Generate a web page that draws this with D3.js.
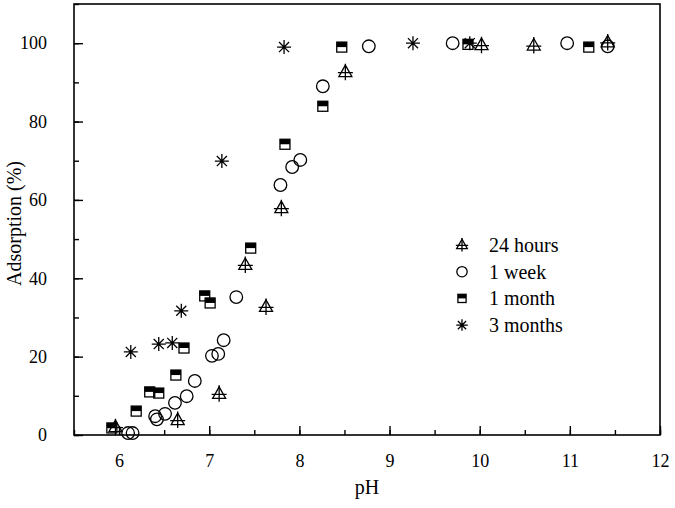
<!DOCTYPE html>
<html><head><meta charset="utf-8">
<script src="https://cdn.jsdelivr.net/npm/d3@7"></script>
<style>body{margin:0;background:#fff}svg{display:block}text{font-family:"Liberation Serif","Times New Roman",serif;fill:#000}</style>
</head><body><svg id="c" width="675" height="508"></svg>
<script>
const hoursPH = [5.96, 6.65, 7.11, 7.63, 7.40, 7.80, 8.51, 10.02, 10.60, 11.42];
const hoursVal = [2.0, 3.8, 10.5, 32.7, 43.4, 57.9, 92.6, 99.5, 99.4, 100.2];
const weekPH = [6.10, 6.15, 6.40, 6.42, 6.51, 6.62, 6.75, 6.84, 7.03, 7.10, 7.16, 7.30, 7.79, 7.92, 8.01, 8.26, 8.77, 9.70, 10.97, 11.42];
const weekVal = [0.5, 0.5, 4.8, 4.0, 5.4, 8.2, 9.9, 13.8, 20.2, 20.7, 24.2, 35.2, 63.8, 68.4, 70.2, 89.0, 99.2, 100, 100, 99.2];
const monthPH = [5.92, 6.19, 6.34, 6.44, 6.63, 6.72, 6.95, 7.01, 7.46, 7.84, 8.26, 8.47, 9.87, 11.21];
const monthVal = [1.8, 6.1, 11.0, 10.7, 15.3, 22.2, 35.5, 33.7, 47.7, 74.2, 83.9, 99.0, 99.7, 99.0];
const threePH = [6.13, 6.44, 6.59, 6.69, 7.14, 7.83, 9.26, 9.89];
const threeVal = [21.2, 23.2, 23.5, 31.7, 69.9, 99.0, 100, 100];
const legendLabels = ["24 hours", "1 week", "1 month", "3 months"];
const xTicks = [6, 7, 8, 9, 10, 11, 12];
const yTicks = [0, 20, 40, 60, 80, 100];

const svg = d3.select("#c");
const L = 74, R = 660, T = 4, B = 435;
const x = d3.scaleLinear().domain([5.5, 12]).range([L, R]);
const y = d3.scaleLinear().domain([0, 110]).range([B, T]);

// frame
svg.append("rect").attr("x", L).attr("y", T).attr("width", R - L).attr("height", B - T)
  .attr("fill", "none").attr("stroke", "#000").attr("stroke-width", 1.6);

// x axis ticks (inward)
const xMinor = d3.range(5.5, 12.01, 0.5);
svg.append("g").attr("transform", `translate(0,${B})`)
  .call(d3.axisBottom(x).tickValues(xMinor).tickSize(-5).tickFormat(""))
  .call(g => g.select(".domain").remove())
  .call(g => g.selectAll("line").attr("stroke-width", 1.4));
svg.append("g").attr("transform", `translate(0,${B})`)
  .call(d3.axisBottom(x).tickValues(xTicks).tickSize(-9).tickPadding(19).tickFormat(d3.format("d")))
  .call(g => g.select(".domain").remove())
  .call(g => g.selectAll("line").attr("stroke-width", 1.4))
  .call(g => g.selectAll("text").attr("font-size", 18).attr("font-family", "Liberation Serif"));

// y axis ticks (inward)
const yMinor = d3.range(0, 110.1, 10);
svg.append("g").attr("transform", `translate(${L},0)`)
  .call(d3.axisLeft(y).tickValues(yMinor).tickSize(-5).tickFormat(""))
  .call(g => g.select(".domain").remove())
  .call(g => g.selectAll("line").attr("stroke-width", 1.4));
svg.append("g").attr("transform", `translate(${L},0)`)
  .call(d3.axisLeft(y).tickValues(yTicks).tickSize(-9).tickPadding(27).tickFormat(d3.format("d")))
  .call(g => g.select(".domain").remove())
  .call(g => g.selectAll("line").attr("stroke-width", 1.4))
  .call(g => g.selectAll("text").attr("font-size", 18).attr("font-family", "Liberation Serif"));

svg.append("text").attr("x", (L + R) / 2).attr("y", 494).attr("text-anchor", "middle")
  .attr("font-size", 20).text("pH");
svg.append("text").attr("transform", `translate(21,${(T + B) / 2 + 4}) rotate(-90)`)
  .attr("text-anchor", "middle").attr("font-size", 20).text("Adsorption (%)");

// markers
function drawTri(g, s) {
  g.append("path").attr("d", `M0,${-7*s}L${-6.5*s},${4.5*s}L${6.5*s},${4.5*s}Z`)
    .attr("fill", "none").attr("stroke", "#000").attr("stroke-width", 1.3);
  g.append("path").attr("d", `M0,${-8.5*s}V${8*s}M${-7.5*s},${0.5*s}H${7.5*s}`)
    .attr("stroke", "#000").attr("stroke-width", 1.3);
}
function drawCirc(g, s) {
  g.append("circle").attr("r", 6.3 * s).attr("fill", "none").attr("stroke", "#000").attr("stroke-width", 1.3);
}
function drawSq(g, s) {
  const h = 5 * s;
  g.append("rect").attr("x", -h).attr("y", -h).attr("width", 2*h).attr("height", h).attr("fill", "#000");
  g.append("rect").attr("x", -h).attr("y", -h).attr("width", 2*h).attr("height", 2*h)
    .attr("fill", "none").attr("stroke", "#000").attr("stroke-width", 1.3);
}
function drawStar(g, s) {
  const r = 7 * s, d = r * 0.72;
  g.append("path").attr("d", `M0,${-r}V${r}M${-r},0H${r}M${-d},${-d}L${d},${d}M${-d},${d}L${d},${-d}`)
    .attr("stroke", "#000").attr("stroke-width", 1.3);
}

const series = [
  { px: hoursPH, v: hoursVal, draw: drawTri },
  { px: weekPH, v: weekVal, draw: drawCirc },
  { px: monthPH, v: monthVal, draw: drawSq },
  { px: threePH, v: threeVal, draw: drawStar }
];
series.forEach(s => {
  const pts = s.px.map((p, i) => [p, s.v[i]]);
  svg.append("g").selectAll("g").data(pts).join("g")
    .attr("transform", d => `translate(${x(d[0])},${y(d[1])})`)
    .each(function () { s.draw(d3.select(this), 1); });
});

// legend
const lg = svg.append("g");
legendLabels.forEach((lab, i) => {
  const yy = 245 + i * 26.7;
  const g = lg.append("g").attr("transform", `translate(462,${yy})`);
  series[i].draw(g, 0.82);
  lg.append("text").attr("x", 489).attr("y", yy + 7).attr("font-size", 20).text(lab);
});
</script></body></html>
